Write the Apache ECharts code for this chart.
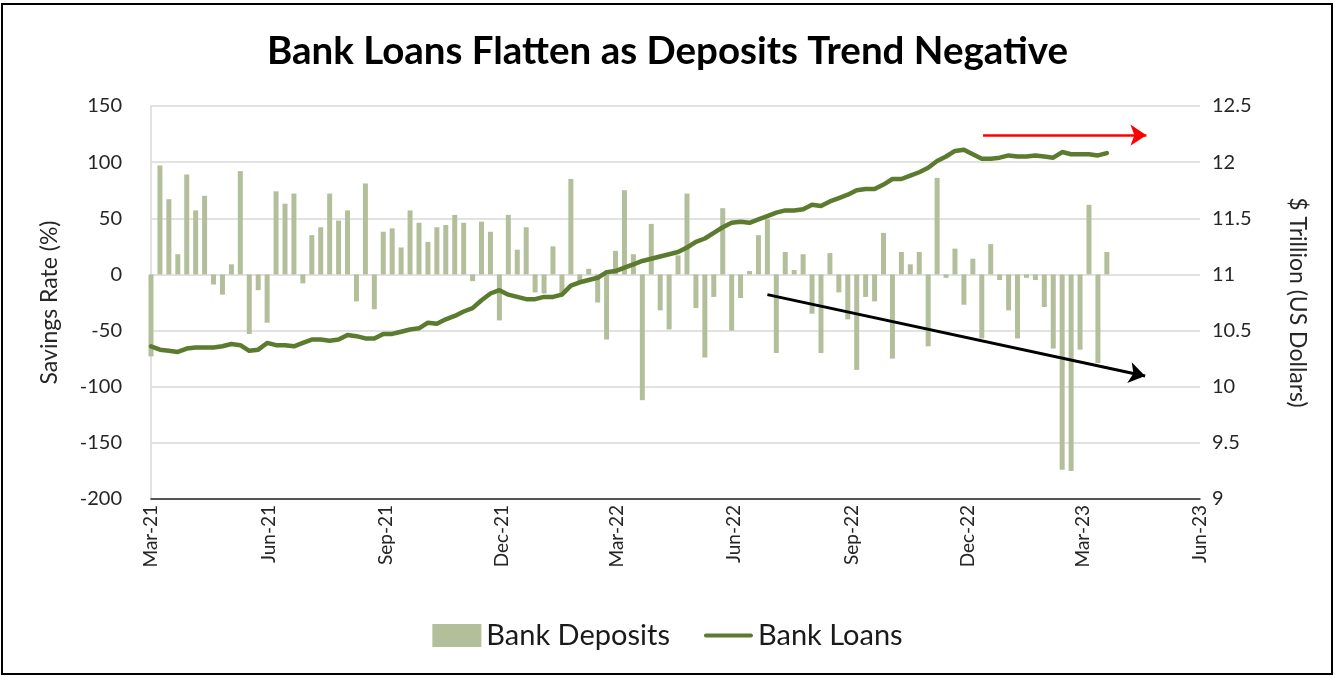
<!DOCTYPE html>
<html><head><meta charset="utf-8">
<script src="https://cdn.jsdelivr.net/npm/echarts@6/dist/echarts.min.js"></script>
<style>
html,body{margin:0;padding:0;background:#fff;}
#chart{position:absolute;left:0;top:0;width:1335px;height:677px;}
#frame{position:absolute;left:1px;top:3px;width:1332px;height:672px;border:2px solid #000;box-sizing:border-box;pointer-events:none;}
</style></head><body>
<div id="chart"></div><div id="frame"></div>
<script>
// ---- data ----
const firstWeek = '2021-03-01';   // weekly observations
const deposits = [-73,97,67,18,89,57,70,-9,-18,9,
  92,-53,-14,-43,74,63,72,-8,35,42,
  72,48,57,-24,81,-31,38,41,24,57,
  46,29,42,44,53,46,-6,47,38,-41,
  53,22,42,-16,-17,25,-17,85,-8,5,
  -25,-58,21,75,18,-112,45,-32,-49,17,
  72,-30,-74,-20,59,-50,-21,3,35,49,
  -70,20,4,18,-35,-70,19,-16,-40,-85,
  -20,-24,37,-75,20,9,20,-64,86,-3,
  23,-27,14,-57,27,-5,-32,-57,-3,-5,
  -29,-66,-174,-175,-67,62,-79,20];
const loans = [10.36,10.33,10.32,10.31,10.34,10.35,10.35,10.35,10.36,10.38,
  10.37,10.32,10.33,10.39,10.37,10.37,10.36,10.39,10.42,10.42,
  10.41,10.42,10.46,10.45,10.43,10.43,10.47,10.47,10.49,10.51,
  10.52,10.57,10.56,10.60,10.63,10.67,10.70,10.77,10.83,10.86,
  10.82,10.80,10.78,10.78,10.80,10.80,10.82,10.90,10.93,10.95,
  10.97,11.02,11.03,11.06,11.09,11.12,11.14,11.16,11.18,11.20,
  11.24,11.29,11.32,11.37,11.42,11.46,11.47,11.46,11.49,11.52,
  11.55,11.57,11.57,11.58,11.62,11.61,11.65,11.68,11.71,11.75,
  11.76,11.76,11.80,11.85,11.85,11.88,11.91,11.95,12.01,12.05,
  12.10,12.11,12.07,12.03,12.03,12.04,12.06,12.05,12.05,12.06,
  12.05,12.04,12.09,12.07,12.07,12.07,12.06,12.08];
const tickLabels = ['Mar-21','Jun-21','Sep-21','Dec-21','Mar-22','Jun-22','Sep-22','Dec-22','Mar-23','Jun-23'];
const tickDates = ['2021-03-01','2021-06-01','2021-09-01','2021-12-01','2022-03-01','2022-06-01','2022-09-01','2022-12-01','2023-03-01','2023-06-01'];
const redArrow = [['2022-12-13',124],['2023-04-20',124]];
const blackArrow = [['2022-06-27',-18],['2023-04-19',-90.5]];

// ---- helpers ----
const DAY = 86400000;
const t0 = Date.parse(tickDates[0] + 'T00:00:00Z');
const dayOf = s => Math.round((Date.parse(s + 'T00:00:00Z') - t0) / DAY);
const startDay = dayOf(firstWeek);
const weekDays = deposits.map((_, i) => startDay + 7 * i);
const tickDays = tickDates.map(dayOf);
const FONT = 'Lato';
const LINE_ICON = 'path://M0,0L0,0M2,9.5L47,9.5A2,2,0,0,1,47,13.5L2,13.5A2,2,0,0,1,2,9.5ZM49,23L49,23';

const chart = echarts.init(document.getElementById('chart'), null, {renderer: 'canvas'});
chart.setOption({
  backgroundColor: '#fff',
  animation: false,
  textStyle: {fontFamily: FONT},
  title: {
    text: 'Bank Loans Flatten as Deposits Trend Negative',
    left: 'center', top: 27,
    textStyle: {fontFamily: FONT, fontSize: 38.5, fontWeight: 'bold', color: '#000'}
  },
  legend: {
    bottom: 22, left: 'center',
    itemWidth: 49, itemHeight: 23, itemGap: 34,
    textStyle: {fontFamily: FONT, fontSize: 29, color: '#1a1a1a'},
    data: [{name: 'Bank Deposits', icon: 'rect'},
           {name: 'Bank Loans', icon: LINE_ICON, itemStyle: {color: '#5b7b2f'}}]
  },
  grid: {left: 151, right: 135, top: 106, bottom: 178},
  xAxis: {
    type: 'value', min: tickDays[0], max: tickDays[tickDays.length - 1],
    axisLine: {show: true, onZero: false, lineStyle: {color: '#262626', width: 1.5}},
    axisTick: {show: false},
    splitLine: {show: false},
    axisLabel: {
      customValues: tickDays, rotate: 90, margin: 6,
      fontSize: 19, color: '#262626', fontFamily: FONT,
      formatter: v => tickLabels[tickDays.indexOf(Math.round(v))] || ''
    }
  },
  yAxis: [{
    type: 'value', min: -200, max: 150, interval: 50,
    name: 'Savings Rate (%)', nameLocation: 'middle', nameGap: 90, nameRotate: 90,
    nameTextStyle: {fontSize: 23, color: '#262626', fontFamily: FONT},
    axisLine: {show: true, lineStyle: {color: '#d9d9d9', width: 1.5}},
    axisTick: {show: false},
    axisLabel: {fontSize: 20, color: '#262626', margin: 29, fontFamily: FONT},
    splitLine: {show: true, lineStyle: {color: '#d9d9d9', width: 1.5}}
  }, {
    type: 'value', min: 9, max: 12.5, interval: 0.5, position: 'right',
    name: '$ Trillion (US Dollars)', nameLocation: 'middle', nameGap: 86, nameRotate: -90,
    nameTextStyle: {fontSize: 23, color: '#262626', fontFamily: FONT},
    axisLine: {show: false}, axisTick: {show: false},
    axisLabel: {fontSize: 20, color: '#262626', margin: 12, fontFamily: FONT},
    splitLine: {show: false}
  }],
  series: [{
    name: 'Bank Deposits', type: 'bar', yAxisIndex: 0,
    barWidth: 5, itemStyle: {color: '#b3bf9b'},
    data: deposits.map((v, i) => [weekDays[i], v]),
    markLine: {
      silent: true, symbol: ['none', 'arrow'], symbolSize: 16,
      label: {show: false}, emphasis: {disabled: true},
      data: [
        [{coord: [dayOf(redArrow[0][0]), redArrow[0][1]], lineStyle: {color: '#ff0000', width: 2.5, type: 'solid'}},
         {coord: [dayOf(redArrow[1][0]), redArrow[1][1]]}],
        [{coord: [dayOf(blackArrow[0][0]), blackArrow[0][1]], lineStyle: {color: '#000', width: 3, type: 'solid'}},
         {coord: [dayOf(blackArrow[1][0]), blackArrow[1][1]]}]
      ]
    }
  }, {
    name: 'Bank Loans', type: 'line', yAxisIndex: 1,
    symbol: 'none', showSymbol: false,
    lineStyle: {color: '#5b7b2f', width: 4.5, cap: 'round', join: 'round'},
    itemStyle: {color: '#5b7b2f'},
    data: loans.map((v, i) => [weekDays[i], v]),
    z: 3
  }]
});
</script></body></html>
